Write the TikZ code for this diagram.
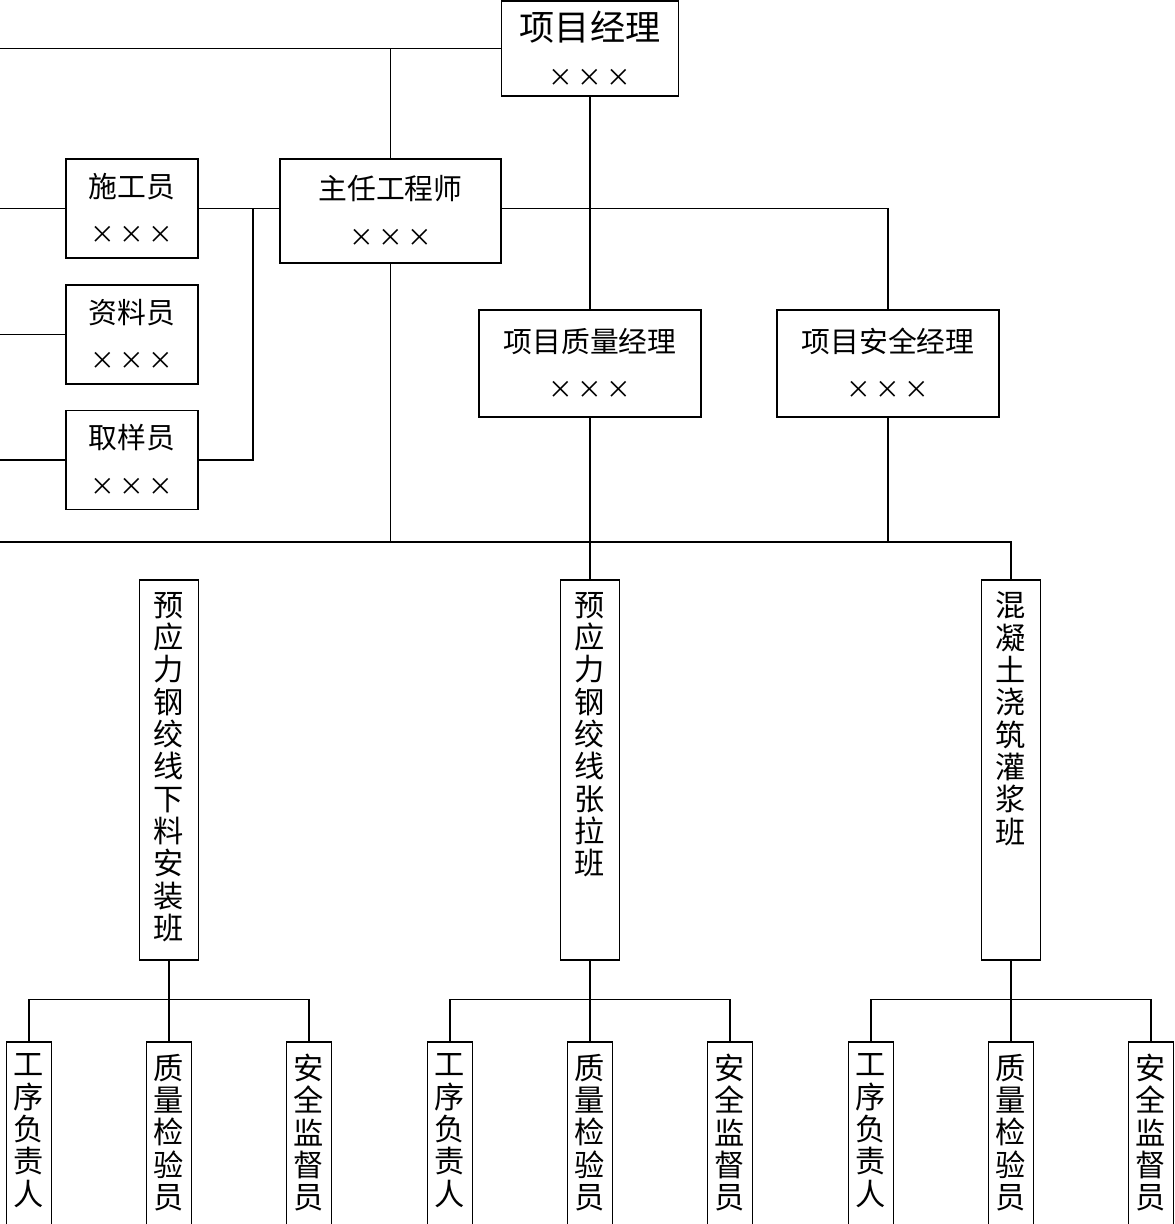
\documentclass[tikz,border=0pt]{standalone}
\usepackage{fontspec}
\setmainfont{Noto Sans CJK SC}
\usetikzlibrary{calc}
\newcommand{\xxx}{{\fontsize{7}{13.2}\selectfont\makebox[0.29cm]{×}\makebox[0.29cm]{×}\makebox[0.29cm]{×}}}
\newcommand{\who}[1]{#1\\\xxx}
\newcommand{\vcol}[3][0.12cm]{\parbox[c][#2][t]{1em}{\centering\vspace*{#1}#3}}

\begin{document}
\begin{tikzpicture}[line width=0.3pt,
    box/.style={draw, inner sep=0pt, align=center},
    titlebox/.style={box, font=\fontsize{8.2}{13.2}\selectfont},
    sidebox/.style={titlebox, minimum width=1.32cm, minimum height=0.99cm},
    mgrbox/.style={titlebox, minimum width=2.22cm, minimum height=1.07cm},
    teambox/.style={box, minimum width=0.59cm, minimum height=3.8cm, font=\fontsize{8.6}{9.2}\selectfont},
    crewbox/.style={box, minimum width=0.45cm, minimum height=2.0cm, font=\fontsize{8.6}{9.2}\selectfont}]
	%%%%% START %%%%%
	\clip (0,0) rectangle (11.75,-12.24);
	\coordinate (edge) at (0,0);
	
	\node[titlebox, minimum width=1.77cm, minimum height=0.95cm] (pm) at (5.90,-0.485) {{\fontsize{10}{13.2}\selectfont 项目经理}\\\xxx};
	\node[titlebox, minimum width=2.21cm, minimum height=1.04cm] (chief) at (3.905,-2.11) {\who{主任工程师}};
	\node[mgrbox] (qm) at (5.90,-3.635) {\who{项目质量经理}};
	\node[mgrbox] (sm) at (8.88,-3.635) {\who{项目安全经理}};
	
	\node[sidebox] (builder) at (1.32,-2.085) {\who{施工员}};
	\node[sidebox] (archivist) at (1.32,-3.345) {\who{资料员}};
	\node[sidebox] (sampler) at (1.32,-4.60) {\who{取样员}};
	
	\node[teambox] (t1) at (1.69,-7.70) {\vcol{3.8cm}{预\\应\\力\\钢\\绞\\线\\下\\料\\安\\装\\班}};
	\node[teambox] (t2) at (5.90,-7.70) {\vcol{3.8cm}{预\\应\\力\\钢\\绞\\线\\张\\拉\\班}};
	\node[teambox] (t3) at (10.11,-7.70) {\vcol{3.8cm}{混\\凝\\土\\浇\\筑\\灌\\浆\\班}};
	
	\node[crewbox] (w1) at (0.29,-11.42) {\vcol{2.0cm}{工\\序\\负\\责\\人}};
	\node[crewbox] (q1) at (1.69,-11.42) {\vcol{2.0cm}{质\\量\\检\\验\\员}};
	\node[crewbox] (s1) at (3.09,-11.42) {\vcol{2.0cm}{安\\全\\监\\督\\员}};
	\node[crewbox] (w2) at (4.50,-11.42) {\vcol{2.0cm}{工\\序\\负\\责\\人}};
	\node[crewbox] (q2) at (5.90,-11.42) {\vcol{2.0cm}{质\\量\\检\\验\\员}};
	\node[crewbox] (s2) at (7.30,-11.42) {\vcol{2.0cm}{安\\全\\监\\督\\员}};
	\node[crewbox] (w3) at (8.71,-11.42) {\vcol{2.0cm}{工\\序\\负\\责\\人}};
	\node[crewbox] (q3) at (10.11,-11.42) {\vcol{2.0cm}{质\\量\\检\\验\\员}};
	\node[crewbox] (s3) at (11.51,-11.42) {\vcol{2.0cm}{安\\全\\监\\督\\员}};
	
	% upper links
	\draw (pm.west) -- (pm.west -| edge);
	\draw (chief.north) -- (chief.north |- pm.west);
	\draw (pm.south) -- (qm.north);
	\draw (builder.east) -- (builder.east -| chief.west);
	\draw (builder.east -| chief.east) -- (builder.east -| sm.north) -- (sm.north);
	\draw (builder.west) -- (builder.west -| edge);
	\draw (archivist.west) -- (archivist.west -| edge);
	\draw (sampler.west) -- (sampler.west -| edge);
	\coordinate (tap) at (2.53,-2.085);
	\draw (tap) -- (tap |- sampler.east) -- (sampler.east);
	
	% bus to the teams
	\coordinate (bus) at (0,-5.42);
	\draw (bus) -- (bus -| t3.north) -- (t3.north);
	\draw (chief.south) -- (chief.south |- bus);
	\draw (qm.south) -- (t2.north);
	\draw (sm.south) -- (sm.south |- bus);
	
	% teams to crews
	\draw (t1.south) -- (q1.north);
	\draw (w1.north) |- ($(t1.south)+(0,-0.39)$) -| (s1.north);
	\draw (t2.south) -- (q2.north);
	\draw (w2.north) |- ($(t2.south)+(0,-0.39)$) -| (s2.north);
	\draw (t3.south) -- (q3.north);
	\draw (w3.north) |- ($(t3.south)+(0,-0.39)$) -| (s3.north);
	%%%%% END %%%%%
\end{tikzpicture}
\end{document}
